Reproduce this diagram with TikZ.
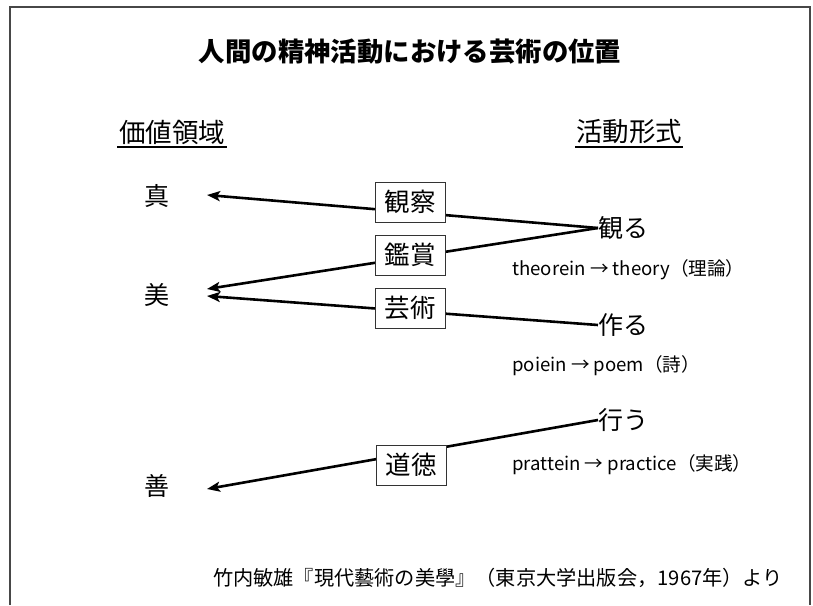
\documentclass[tikz,border=0pt]{standalone}
\usepackage{fontspec}
\setmainfont{Noto Sans CJK JP}
\usetikzlibrary{arrows.meta}
\begin{document}
\begin{tikzpicture}[x=1pt,y=-1pt,
  every node/.style={inner sep=0pt},
  frameline/.style={draw=black!72,line width=1.6pt},
  conn/.style={line width=2.6pt,black},
  arr/.style={conn,-{Stealth[length=13pt,width=10pt,inset=3pt]}},
  labelbox/.style={draw=black!80,line width=0.9pt,fill=white,minimum width=70pt,minimum height=40pt,font=\fontsize{25.5}{27}\selectfont},
  big/.style={font=\fontsize{25}{27}\selectfont},
  head/.style={font=\fontsize{26.5}{28}\selectfont},
  small/.style={font=\fontsize{18.6}{20}\selectfont},
  uline/.style={line width=1.3pt,black}]
\useasboundingbox (0,0) rectangle (813,605);
\fill[white] (0,0) rectangle (813,605);
% frame (open at the bottom)
\draw[frameline] (10,605) -- (10,7) -- (810,7) -- (810,605);
% title
\node (title) at (410,52) {\fontsize{26.4}{28}\selectfont\bfseries 人間の精神活動における芸術の位置};
% column heads
\node[head] (kachi) at (172,132) {価値領域};
\node[head] (katsudo) at (629,132) {活動形式};
\draw[uline] (117,147) -- (227,147);
\draw[uline] (575,147) -- (683,147);
% value domain
\node[big] (shin) at (157,196) {真};
\node[big] (bi) at (157,295) {美};
\node[big] (zen) at (157,486) {善};
\coordinate (tshin) at (207,195);
\coordinate (tbi1) at (207,289);
\coordinate (tbi2) at (207,296);
\coordinate (tzen) at (207,489);
% activity forms
\node[big,anchor=west] (miru) at (598,228) {観る};
\node[big,anchor=west] (tsukuru) at (598,325) {作る};
\node[big,anchor=west] (okonau) at (598,420) {行う};
\node[small,anchor=west] (th) at (512,270) {theorein → theory（理論）};
\node[small,anchor=west] (po) at (512,366) {poiein → poem（詩）};
\node[small,anchor=west] (pr) at (512,465) {prattein → practice（実践）};
% connectors
\draw[arr] (miru.west) -- (tshin);
\draw[arr] (miru.west) -- (tbi1);
\draw[arr] (tsukuru.west) -- (tbi2);
\draw[arr] (okonau.west) -- (tzen);
% boxes on top
\node[labelbox] (kansatsu) at (410,202) {観察};
\node[labelbox] (kansho) at (410,255) {鑑賞};
\node[labelbox] (geijutsu) at (410,308) {芸術};
\node[labelbox] (dotoku) at (411,465) {道徳};
% source
\node (src) at (498,578) {\fontsize{20.2}{22}\selectfont 竹内敏雄『現代藝術の美學』（東京大学出版会，1967年）より};
\end{tikzpicture}
\end{document}
